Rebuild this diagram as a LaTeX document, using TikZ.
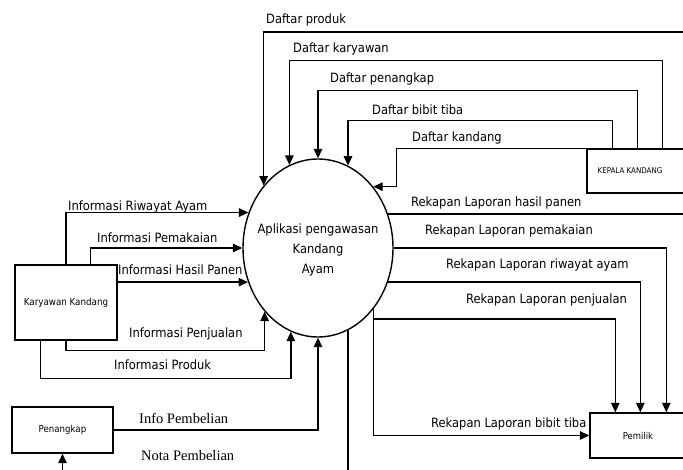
\documentclass[tikz,border=0pt]{standalone}
\usepackage{fontspec}
\setmainfont{DejaVu Sans Condensed}
\newfontfamily\serifnota{Liberation Serif}
\usetikzlibrary{shapes.geometric,arrows.meta}
\begin{document}
\begin{tikzpicture}[x=1pt,y=-1pt,
  line/.style={line width=1.4pt, draw=black},
  arr/.style={line, -{Triangle[length=9.5pt,width=8.5pt]}},
  lab/.style={anchor=base west, inner sep=0, font=\fontsize{12.8}{14}\selectfont},
  slab/.style={anchor=base west, inner sep=0, font=\serifnota\fontsize{14.5}{16}\selectfont},
  ctext/.style={anchor=base, inner sep=0, font=\fontsize{12.8}{14}\selectfont},
  entity/.style={draw, line width=1.4pt, inner sep=0, fill=white}
]
\useasboundingbox (0,0) rectangle (683,470);
\clip (0,0) rectangle (683,470);
\fill[white] (0,0) rectangle (683,470);

% process
\node[draw, ellipse, line width=1.4pt, minimum width=150pt, minimum height=178pt, inner sep=0] (P) at (318,248) {};
\node[ctext] (t1) at (318,234) {Aplikasi pengawasan};
\node[ctext] (t2) at (318,254) {Kandang};
\node[ctext] (t3) at (318,274) {Ayam};

% entities
\node[entity, minimum width=102pt, minimum height=75pt, font=\fontsize{9.7}{11}\selectfont] (KK) at (66,302.5) {Karyawan Kandang};
\node[entity, minimum width=101pt, minimum height=46pt, font=\fontsize{9.6}{11}\selectfont] (Pn) at (62.5,430) {Penangkap};
\node[entity, minimum width=120pt, minimum height=44pt] (K) at (647,171) {};
\node[inner sep=0, font=\fontsize{7.9}{9}\selectfont] (Kt) at (630,171) {KEPALA KANDANG};
\node[entity, minimum width=96pt, minimum height=45pt, font=\fontsize{9.4}{11}\selectfont] (Pm) at (638,435.5) {Pemilik};

\coordinate (E) at (700,0);
\coordinate (B) at (0,480);
\coordinate (dp) at (700,32);
\coordinate (Q) at (0,319);

% Kepala Kandang -> process
\draw[arr] (dp) -| (P.131.1);
\draw[arr] ([xshift=76pt]K.north west) -- ++(0,-88) -| (P.109.5);
\draw[arr] ([xshift=51pt]K.north west) -- ++(0,-58) -| (P.90);
\draw[arr] ([xshift=26pt]K.north west) -- ++(0,-28) -| (P.70.5);
\draw[arr] (K.north west) -- ++(-190,0) |- (P.48.9);

% process -> outside / Pemilik
\draw[line] (P.26.2) -- (P.26.2 -| E);
\draw[arr] (P.0) -| ([xshift=77pt]Pm.north west);
\draw[arr] (P.-26.9) -| ([xshift=51pt]Pm.north west);
\draw[arr] (P.-48.9) |- (Pm.west);
\draw[arr] (P.-48.9 |- Q) -| ([xshift=26pt]Pm.north west);
\draw[line] (P.-70.5) -- (P.-70.5 |- B);

% Karyawan Kandang -> process
\draw[arr] (KK.north) |- (P.153.8);
\draw[arr] ([xshift=76pt]KK.north west) |- (P.180);
\draw[arr] (KK.east |- P.206.9) -- (P.206.9);
\draw[arr] (KK.south) -- ++(0,10) -| (P.-130.1);
\draw[arr] ([xshift=26pt]KK.south west) -- ++(0,38) -| (P.-108.9);

% Penangkap
\draw[arr] (Pn.east) -| (P.south);
\draw[arr] (Pn.south |- B) -- (Pn.south);

% labels
\node[lab] (l1) at (266,24) {Daftar produk};
\node[lab] (l2) at (293,53) {Daftar karyawan};
\node[lab] (l3) at (330,83) {Daftar penangkap};
\node[lab] (l4) at (372,115) {Daftar bibit tiba};
\node[lab] (l5) at (412,142) {Daftar kandang};
\node[lab] (l6) at (411,207) {Rekapan Laporan hasil panen};
\node[lab] (l7) at (425,235) {Rekapan Laporan pemakaian};
\node[lab] (l8) at (446,269) {Rekapan Laporan riwayat ayam};
\node[lab] (l9) at (466,304) {Rekapan Laporan penjualan};
\node[lab] (l10) at (431,427) {Rekapan Laporan bibit tiba};
\node[lab] (l11) at (68,211) {Informasi Riwayat Ayam};
\node[lab] (l12) at (97,243) {Informasi Pemakaian};
\node[lab] (l13) at (118,275) {Informasi Hasil Panen};
\node[lab] (l14) at (129,338) {Informasi Penjualan};
\node[lab] (l15) at (114,370) {Informasi Produk};
\node[slab] (l16) at (139,423) {Info Pembelian};
\node[slab] (l17) at (141,460) {Nota Pembelian};
\end{tikzpicture}
\end{document}
